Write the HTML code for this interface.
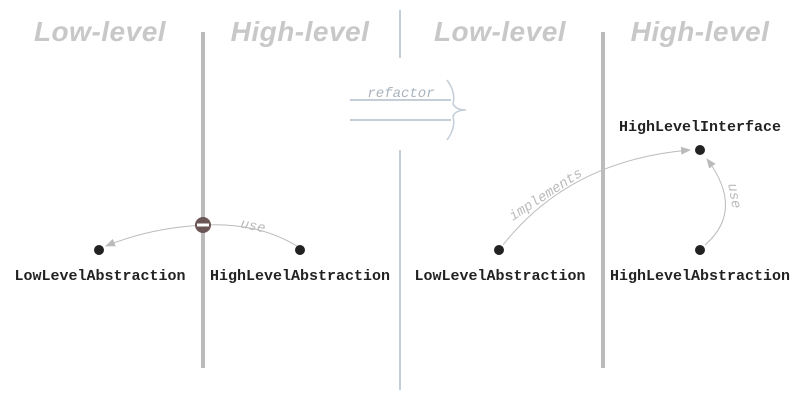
<!DOCTYPE html>
<html><head><style>body{margin:0;background:#fff}svg{display:block}</style></head><body>
<svg width="800" height="400" viewBox="0 0 800 400" xmlns="http://www.w3.org/2000/svg">
<defs><marker id="a" markerWidth="10" markerHeight="8" refX="9" refY="4" orient="auto" markerUnits="userSpaceOnUse"><path d="M0,0 L10,4 L0,8 z" fill="#bbb"/></marker></defs>
<g font-family="Liberation Sans, sans-serif" font-weight="bold" font-style="italic" font-size="28" fill="#c8c8c8" text-anchor="middle" letter-spacing="0.5">
<text x="100" y="41">Low-level</text><text x="300" y="41">High-level</text>
<text x="500" y="41">Low-level</text><text x="700" y="41">High-level</text></g>
<rect x="201" y="32" width="4" height="336" fill="#bbb"/>
<rect x="601" y="32" width="4" height="336" fill="#bbb"/>
<line x1="400" y1="10" x2="400" y2="58" stroke="#c4ced8" stroke-width="2"/>
<line x1="400" y1="150" x2="400" y2="390" stroke="#c4ced8" stroke-width="2"/>
<line x1="350" y1="100" x2="451" y2="100" stroke="#c4ced8" stroke-width="2"/>
<line x1="350" y1="120" x2="451" y2="120" stroke="#c4ced8" stroke-width="2"/>
<path d="M447,80 Q456,92 453,104 Q456,110 466,110 Q456,110 453,116 Q456,128 447,140" fill="none" stroke="#c4ced8" stroke-width="1.5"/>
<text x="401" y="97" font-family="Liberation Mono, monospace" font-style="italic" font-size="14" fill="#aab4bd" text-anchor="middle">refactor</text>
<path d="M300,248 Q260,222 203,225 Q150,228 106,246" fill="none" stroke="#bbb" stroke-width="1" marker-end="url(#a)"/>
<text x="253" y="230" font-family="Liberation Mono, monospace" font-style="italic" font-size="14" fill="#bbb" text-anchor="middle" transform="rotate(12 253 226)">use</text>
<circle cx="203" cy="225" r="8" fill="#6b5555"/><rect x="197" y="223.5" width="12" height="3" fill="#fff"/>
<path d="M503,245 Q570,160 690,150" fill="none" stroke="#bbb" stroke-width="1" marker-end="url(#a)"/>
<text x="548" y="198" font-family="Liberation Mono, monospace" font-style="italic" font-size="14" fill="#bbb" text-anchor="middle" transform="rotate(-33 548 198)">implements</text>
<path d="M705,245 Q745,210 707,159" fill="none" stroke="#bbb" stroke-width="1" marker-end="url(#a)"/>
<text x="730" y="203" font-family="Liberation Mono, monospace" font-style="italic" font-size="14" fill="#bbb" text-anchor="middle" transform="rotate(80 734 200)">use</text>
<g fill="#222"><circle cx="99" cy="250" r="5"/><circle cx="300" cy="250" r="5"/><circle cx="499" cy="250" r="5"/><circle cx="700" cy="250" r="5"/><circle cx="700" cy="150" r="5"/></g>
<g font-family="Liberation Mono, monospace" font-weight="bold" font-size="15" fill="#222" text-anchor="middle">
<text x="100" y="280">LowLevelAbstraction</text><text x="300" y="280">HighLevelAbstraction</text>
<text x="500" y="280">LowLevelAbstraction</text><text x="700" y="280">HighLevelAbstraction</text>
<text x="700" y="131">HighLevelInterface</text></g>
</svg>
</body></html>
